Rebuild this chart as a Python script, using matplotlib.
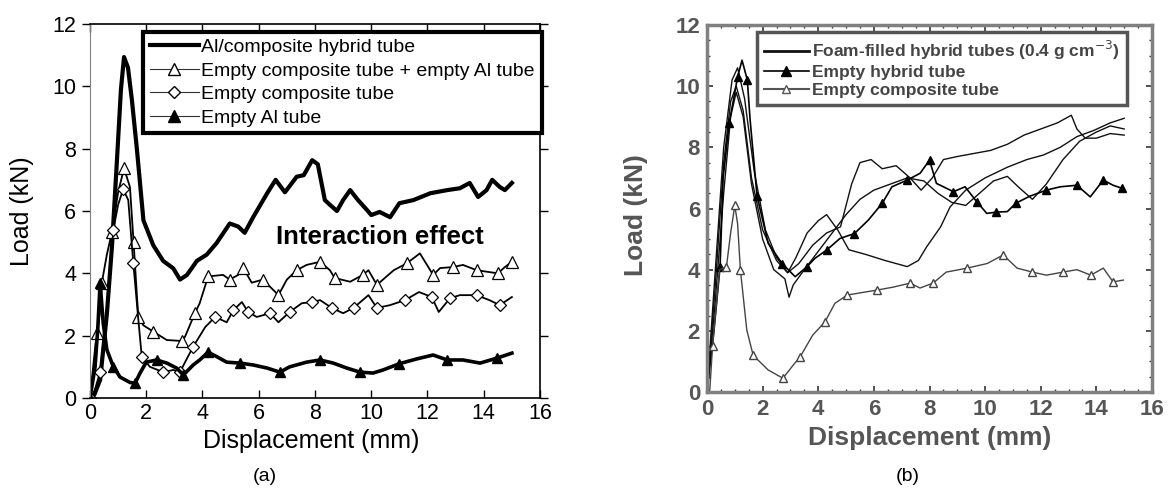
import matplotlib
matplotlib.use("Agg")
import matplotlib.pyplot as plt
from matplotlib.lines import Line2D
from matplotlib.ticker import MultipleLocator

plt.rcParams['font.family'] = ['Liberation Sans', 'DejaVu Sans']

# ---- panel (a) data ----
hyb_x = [0, 0.15, 0.36, 0.6, 0.78, 0.95, 1.1, 1.21, 1.35, 1.49, 1.67, 1.9, 2.25, 2.6, 2.96, 3.2,
         3.45, 3.8, 4.15, 4.5, 4.97, 5.27, 5.5, 5.8, 6.3, 6.6, 6.93, 7.35, 7.6, 7.9, 8.1, 8.35,
         8.53, 8.78, 9.0, 9.25, 9.53, 9.85, 10.0, 10.3, 10.67, 11.0, 11.5, 12.1, 12.7, 13.15,
         13.5, 13.8, 14.1, 14.3, 14.57, 14.75, 15.0]
hyb_y = [0, 0.1, 0.58, 2.7, 4.85, 7.5, 9.9, 10.94, 10.6, 9.56, 7.96, 5.7, 4.9, 4.4, 4.16, 3.8,
         3.95, 4.4, 4.6, 4.97, 5.6, 5.5, 5.3, 5.8, 6.57, 7.0, 6.6, 7.1, 7.15, 7.63, 7.5, 6.35,
         6.2, 6.0, 6.35, 6.67, 6.35, 6.03, 5.87, 5.97, 5.8, 6.25, 6.35, 6.57, 6.67, 6.73,
         6.9, 6.45, 6.67, 7.0, 6.77, 6.67, 6.9]

sum_x = [0, 0.1, 0.24, 0.36, 0.42, 0.6, 0.78, 1.0, 1.21, 1.42, 1.55, 1.67, 1.72, 1.9, 2.25, 2.73,
         3.26, 3.38, 3.73, 3.9, 4.2, 4.73, 4.97, 5.27, 5.45, 5.75, 6.15, 6.4, 6.7, 7.0, 7.35,
         7.7, 8.18, 8.53, 8.7, 9.25, 9.7, 9.9, 10.2, 10.8, 11.26, 11.73, 12.2, 12.45, 12.9,
         13.26, 13.75, 14.2, 14.5, 14.75, 15.0]
sum_y = [0, 0.9, 2.1, 2.8, 3.7, 4.6, 5.33, 6.6, 7.37, 6.77, 5.0, 3.25, 2.6, 2.33, 2.13, 1.86,
         1.83, 1.97, 2.72, 3.04, 3.9, 3.95, 3.8, 3.95, 4.17, 3.7, 3.8, 3.57, 3.3, 3.8, 4.1,
         4.27, 4.37, 4.1, 3.85, 3.73, 3.95, 4.1, 3.63, 4.1, 4.32, 4.64, 3.95, 4.17, 4.2,
         4.27, 4.1, 4.04, 4.0, 4.2, 4.37]

comp_x = [0, 0.15, 0.36, 0.6, 0.83, 1.0, 1.18, 1.36, 1.54, 1.72, 1.84, 2.13, 2.6, 2.96, 3.2,
          3.38, 3.67, 4.1, 4.45, 4.86, 5.1, 5.4, 5.62, 5.93, 6.4, 6.7, 7.1, 7.53, 7.9, 8.18,
          8.6, 9.0, 9.37, 9.9, 10.2, 10.67, 11.2, 11.7, 12.15, 12.4, 12.8, 13.15, 13.75,
          14.2, 14.57, 15.0]
comp_y = [0, 0.2, 0.83, 2.8, 5.4, 6.2, 6.7, 6.35, 4.33, 2.5, 1.33, 1.0, 0.83, 0.9, 0.83,
          1.15, 1.65, 2.28, 2.6, 2.43, 2.82, 3.08, 2.76, 2.6, 2.72, 2.43, 2.76, 3.04, 3.08, 3.14,
          2.89, 2.72, 2.89, 3.3, 2.89, 2.98, 3.14, 3.4, 3.24, 2.76, 3.2, 3.3, 3.3,
          3.14, 2.98, 3.24]

al_x = [0, 0.18, 0.28, 0.36, 0.47, 0.6, 0.83, 1.07, 1.42, 1.6, 1.78, 2.0, 2.37, 2.73, 3.08,
        3.32, 3.67, 3.9, 4.2, 4.5, 4.86, 5.33, 5.8, 6.3, 6.75, 7.1, 7.7, 8.18, 8.65, 9.13,
        9.6, 10.06, 10.42, 11.0, 11.6, 12.2, 12.7, 13.26, 13.87, 14.47, 15.0]
al_y = [0, 1.0, 2.28, 3.7, 2.4, 1.55, 1.0, 0.67, 0.5, 0.47, 0.8, 1.15, 1.22, 1.12, 0.96,
        0.74, 1.06, 1.22, 1.47, 1.33, 1.15, 1.12, 1.06, 0.96, 0.83, 1.0, 1.15, 1.22, 1.12, 0.96,
        0.83, 0.8, 0.9, 1.1, 1.25, 1.38, 1.22, 1.22, 1.12, 1.28, 1.44]

labels_a = ['Al/composite hybrid tube', 'Empty composite tube + empty Al tube',
            'Empty composite tube', 'Empty Al tube']

# ---- panel (b) data ----
f1_x = [0, 0.3, 0.6, 0.85, 1.05, 1.3, 1.6, 2.0, 2.5, 2.9, 3.3, 3.8, 4.3, 4.8, 5.2, 5.5, 5.9,
        6.3, 6.8, 7.3, 7.7, 8.1, 8.5, 9.0, 9.6, 10.2, 10.8, 11.4, 12.0, 12.6, 13.1, 13.3,
        13.6, 14.0, 14.5, 15.0]
f1_y = [0, 3.5, 7.5, 9.5, 10.0, 9.2, 7.0, 5.3, 4.3, 3.9, 4.2, 4.8, 5.2, 5.4, 6.8, 7.5, 7.6,
        7.3, 7.4, 7.0, 6.6, 7.0, 7.6, 7.7, 7.8, 7.9, 8.1, 8.4, 8.6, 8.8, 9.05, 8.6,
        8.3, 8.3, 8.45, 8.4]
f2_x = [0, 0.3, 0.6, 0.9, 1.1, 1.35, 1.7, 2.1, 2.5, 2.9, 3.2, 3.6, 4.0, 4.3, 4.7, 5.1, 5.7,
        6.4, 7.2, 7.6, 7.9, 8.4, 8.74, 9.3, 10.0, 10.8, 11.5, 12.1, 12.7, 13.3, 13.9, 14.5,
        15.0]
f2_y = [0, 4.0, 8.0, 10.2, 10.6, 9.6, 7.2, 5.3, 4.4, 3.9, 4.4, 5.2, 5.6, 5.8, 5.3, 4.65, 4.5,
        4.3, 4.1, 4.3, 4.75, 5.4, 6.05, 6.6, 7.0, 7.35, 7.6, 7.75, 8.0, 8.35, 8.55, 8.8,
        8.95]
f3_x = [0, 0.3, 0.6, 0.85, 1.05, 1.3, 1.6, 2.0, 2.4, 2.8, 2.95, 3.1, 3.5, 4.0, 4.5, 5.0, 5.5,
        6.0, 6.6, 7.2, 7.8, 8.3, 8.8, 9.3, 9.8, 10.3, 10.8, 11.2, 11.7, 12.2, 12.8, 13.4,
        14.0, 14.5, 15.0]
f3_y = [0, 3.0, 6.5, 9.0, 9.8, 9.0, 6.8, 5.0, 4.0, 3.7, 3.1, 3.5, 4.0, 4.6, 5.2, 5.8, 6.3,
        6.6, 6.8, 7.0, 6.9, 6.5, 6.2, 6.1, 6.5, 6.9, 7.05, 6.7, 6.3, 6.8, 7.6, 8.2,
        8.5, 8.7, 8.6]
eh_x = [0, 0.25, 0.47, 0.58, 0.8, 0.94, 1.1, 1.26, 1.45, 1.55, 1.8, 2.2, 2.7, 3.17, 3.6,
        3.88, 4.3, 4.78, 5.3, 5.8, 6.3, 6.65, 7.2, 7.66, 8.0, 8.25, 8.86, 9.28, 9.7, 10.06,
        10.4, 10.8, 11.1, 11.6, 12.2, 12.7, 13.3, 13.78, 14.25, 14.6, 14.92]
eh_y = [0, 2.0, 4.1, 7.0, 8.8, 9.5, 10.3, 10.85, 10.2, 8.9, 6.4, 4.86, 4.2, 3.77, 4.1,
        4.37, 4.64, 5.02, 5.18, 5.62, 6.17, 6.71, 6.93, 7.15, 7.58, 6.82, 6.55, 6.71, 6.22, 5.84,
        5.88, 5.9, 6.17, 6.4, 6.6, 6.71, 6.76, 6.38, 6.93, 6.76, 6.66]
ec_x = [0, 0.1, 0.2, 0.45, 0.7, 0.85, 1.0, 1.1, 1.2, 1.43, 1.66, 2.2, 2.73, 3.1, 3.35, 3.8,
        4.24, 4.6, 5.04, 5.5, 6.1, 6.7, 7.3, 7.66, 8.13, 8.6, 9.35, 10.07, 10.65, 11.15,
        11.7, 12.2, 12.8, 13.3, 13.8, 14.25, 14.6, 14.97]
ec_y = [0, 0.06, 1.5, 4.0, 4.1, 5.2, 6.1, 5.5, 4.0, 2.03, 1.2, 0.72, 0.45, 0.88, 1.15, 1.86,
        2.29, 2.9, 3.17, 3.24, 3.33, 3.43, 3.56, 3.4, 3.56, 3.92, 4.05, 4.2, 4.48, 4.05,
        3.92, 3.82, 3.92, 4.0, 3.82, 4.05, 3.6, 3.66]

labels_b = ['Foam-filled hybrid tubes (0.4 g cm$^{-3}$)', 'Empty hybrid tube',
            'Empty composite tube']

ticks_x = [0, 2, 4, 6, 8, 10, 12, 14, 16]
ticks_y = [0, 2, 4, 6, 8, 10, 12]

fig = plt.figure(figsize=(11.69, 4.90), dpi=100)

# ================= (a) =================
ax = fig.add_axes([90 / 1169, 92 / 490, 450 / 1169, 374 / 490])
ax.plot(hyb_x, hyb_y, color='black', lw=3)
ax.plot(sum_x, sum_y, color='black', lw=1.3, marker='^', ms=8, mfc='white', mec='black',
        mew=0.9, markevery=2)
ax.plot(comp_x, comp_y, color='black', lw=1.3, marker='D', ms=6, mfc='white', mec='black',
        mew=0.9, markevery=2)
ax.plot(al_x, al_y, color='black', lw=2.6, marker='^', ms=7, markevery=3)

ax.set_xlim(0, 16)
ax.set_ylim(0, 12)
ax.set_xticks(ticks_x)
ax.set_yticks(ticks_y)
ax.tick_params(direction='in', top=True, right=True, labelsize=15.5, length=6, width=1)
ax.tick_params(axis='y', direction='out', pad=4)
ax.spines['left'].set_color('#808080')
for s in ['top', 'right', 'bottom']:
    ax.spines[s].set_linewidth(1.2)

ax.text(6.6, 5.15, 'Interaction effect', fontsize=18.5, fontweight='bold', va='center')

handles_a = [Line2D([], [], color='black', lw=3),
             Line2D([], [], color='#333333', lw=0.8, marker='^', ms=8, mfc='white', mec='black'),
             Line2D([], [], color='#333333', lw=0.8, marker='D', ms=6, mfc='white', mec='black'),
             Line2D([], [], color='#333333', lw=0.8, marker='^', ms=8, mfc='black', mec='black')]
leg = ax.legend(handles_a, labels_a, loc='upper left', bbox_to_anchor=(0.118, 0.979),
                borderaxespad=0, fontsize=14, handlelength=2.5, handletextpad=0.15,
                labelspacing=0.3, borderpad=0.35, fancybox=False, framealpha=1)
leg.get_frame().set_edgecolor('black')
leg.get_frame().set_linewidth(3)

fig.text(311 / 1169, 1 - 441 / 490, 'Displacement (mm)', fontsize=18, ha='center', va='center')
fig.text(22 / 1169, 1 - 211 / 490, 'Load (kN)', fontsize=18, rotation=90, ha='center',
         va='center')
fig.text(265 / 1169, 1 - 476 / 490, '(a)', fontsize=14, ha='center', va='center')

# ================= (b) =================
narrow = ['Liberation Sans Narrow', 'Liberation Sans', 'DejaVu Sans']
grey = '#555555'
bx = fig.add_axes([707 / 1169, 98 / 490, 445 / 1169, 367 / 490])
for fx, fy in [(f1_x, f1_y), (f2_x, f2_y), (f3_x, f3_y)]:
    bx.plot(fx, fy, color='#111111', lw=1.0)
bx.plot(eh_x, eh_y, color='black', lw=1.2, marker='^', ms=6, markevery=2)
bx.plot(ec_x, ec_y, color='#444444', lw=1.0, marker='^', ms=6, mfc='white', mec='#444444',
        markevery=2)

bx.set_xlim(0, 16)
bx.set_ylim(0, 12)
bx.set_xticks(ticks_x)
bx.set_yticks(ticks_y)
bx.xaxis.set_minor_locator(MultipleLocator(0.5))
bx.yaxis.set_minor_locator(MultipleLocator(0.5))
bx.tick_params(which='both', direction='in', top=True, right=True, color='#333333')
bx.tick_params(which='major', length=4, width=1.2, labelsize=16, labelcolor=grey, pad=5)
bx.tick_params(which='minor', length=2, width=1)
for lab in bx.get_xticklabels() + bx.get_yticklabels():
    lab.set_family(narrow)
    lab.set_fontweight('bold')
for s in bx.spines.values():
    s.set_color('#808080')
    s.set_linewidth(2.5)

handles_b = [Line2D([], [], color='#111111', lw=2),
             Line2D([], [], color='black', lw=1.2, marker='^', ms=7),
             Line2D([], [], color='#555555', lw=1.5, marker='^', ms=6, mfc='white',
                    mec='#555555')]
leg_b = bx.legend(handles_b, labels_b, loc='upper left', bbox_to_anchor=(0.112, 0.98),
                  borderaxespad=0, handlelength=2.6, handletextpad=0.2, labelspacing=0.15,
                  borderpad=0.4, fancybox=False, framealpha=1,
                  prop={'family': narrow, 'size': 12.5, 'weight': 'bold'})
leg_b.get_frame().set_edgecolor('#555555')
leg_b.get_frame().set_linewidth(2.5)
for t in leg_b.get_texts():
    t.set_color('#444444')

fig.text(930 / 1169, 1 - 438 / 490, 'Displacement (mm)', fontsize=19, family=narrow,
         fontweight='bold', color=grey, ha='center', va='center')
fig.text(636 / 1169, 1 - 215 / 490, 'Load (kN)', fontsize=19, family=narrow,
         fontweight='bold', color=grey, rotation=90, ha='center', va='center')
fig.text(908 / 1169, 1 - 476 / 490, '(b)', fontsize=14, ha='center', va='center')

fig.savefig('out.png', dpi=100)
